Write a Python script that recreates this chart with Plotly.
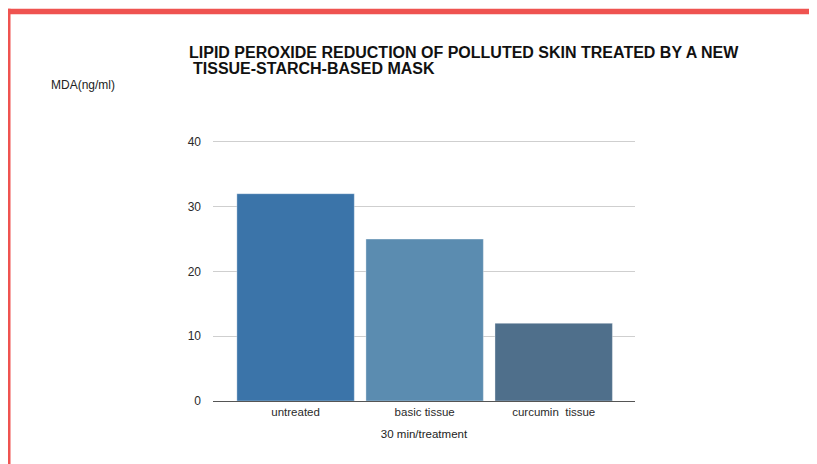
import plotly.graph_objects as go

categories = ["untreated", "basic tissue", "curcumin  tissue"]
values = [32, 25, 12]
bar_colors = ["#3B74A9", "#5B8CB0", "#4F6F8B"]
y_ticks = [0, 10, 20, 30, 40]
title_line1 = "LIPID PEROXIDE REDUCTION OF POLLUTED SKIN TREATED BY A NEW"
title_line2 = "TISSUE-STARCH-BASED MASK"
y_title = "MDA(ng/ml)"
x_title = "30 min/treatment"

OFF = 8  # page body margin
W, H = 817, 464
YMAX = 40.6
L, R, B = 213, 635, 401  # plot area in page px
T = B - (B - 142) / 40 * YMAX
pw, ph = R - L, B - T

def px(x):
    return (x - L) / pw

def py(y):
    return (B - y) / ph

fig = go.Figure()
fig.add_trace(go.Bar(
    x=list(range(len(categories))), y=values,
    marker=dict(color=bar_colors, line=dict(color="rgba(255,255,255,0.35)", width=1)),
    width=0.91,
))

font = "Liberation Sans, Arial, sans-serif"
fig.update_layout(
    width=W - OFF, height=H - OFF,
    margin=dict(l=L - OFF, r=W - R, t=T - OFF, b=H - B, pad=0),
    paper_bgcolor="white", plot_bgcolor="white",
    showlegend=False,
    font=dict(family=font, color="#222"),
    xaxis=dict(
        range=[-0.64, 2.63], tickmode="array",
        tickvals=list(range(len(categories))), ticktext=categories,
        showgrid=False, zeroline=False,
        showline=True, linecolor="#555", linewidth=1,
        ticks="", tickfont=dict(size=11.5, family=font, color="#2a2a2a"),
        ticklabelstandoff=0,
        title=dict(text=x_title, font=dict(size=11.5, color="#222"), standoff=13),
    ),
    yaxis=dict(
        range=[0, YMAX], tickmode="array", tickvals=y_ticks,
        showgrid=True, gridcolor="#cfcfcf", gridwidth=1,
        zeroline=False, showline=False, ticks="",
        tickfont=dict(size=12, family=font, color="#2a2a2a"),
        ticklabelstandoff=11,
    ),
    annotations=[
        dict(text="<b>" + title_line1 + "</b>",
             x=px(187), y=py(52.5), xref="paper", yref="paper",
             xanchor="left", yanchor="middle", showarrow=False, align="left",
             font=dict(size=16, family=font, color="#111")),
        dict(text="<b>" + title_line2 + "</b>",
             x=px(191), y=py(68.5), xref="paper", yref="paper",
             xanchor="left", yanchor="middle", showarrow=False, align="left",
             font=dict(size=16, family=font, color="#111")),
        dict(text=y_title, x=px(49), y=py(85), xref="paper", yref="paper",
             xanchor="left", yanchor="middle", showarrow=False,
             font=dict(size=12, family=font, color="#222")),
    ],
    shapes=[
        dict(type="rect", xref="paper", yref="paper",
             x0=px(5), x1=px(830), y0=py(14.5), y1=py(9),
             fillcolor="#EF5350", line=dict(width=0)),
        dict(type="rect", xref="paper", yref="paper",
             x0=px(5), x1=px(10.5), y0=py(480), y1=py(9),
             fillcolor="#EF5350", line=dict(width=0)),
    ],
)

fig.write_html("out.html")
